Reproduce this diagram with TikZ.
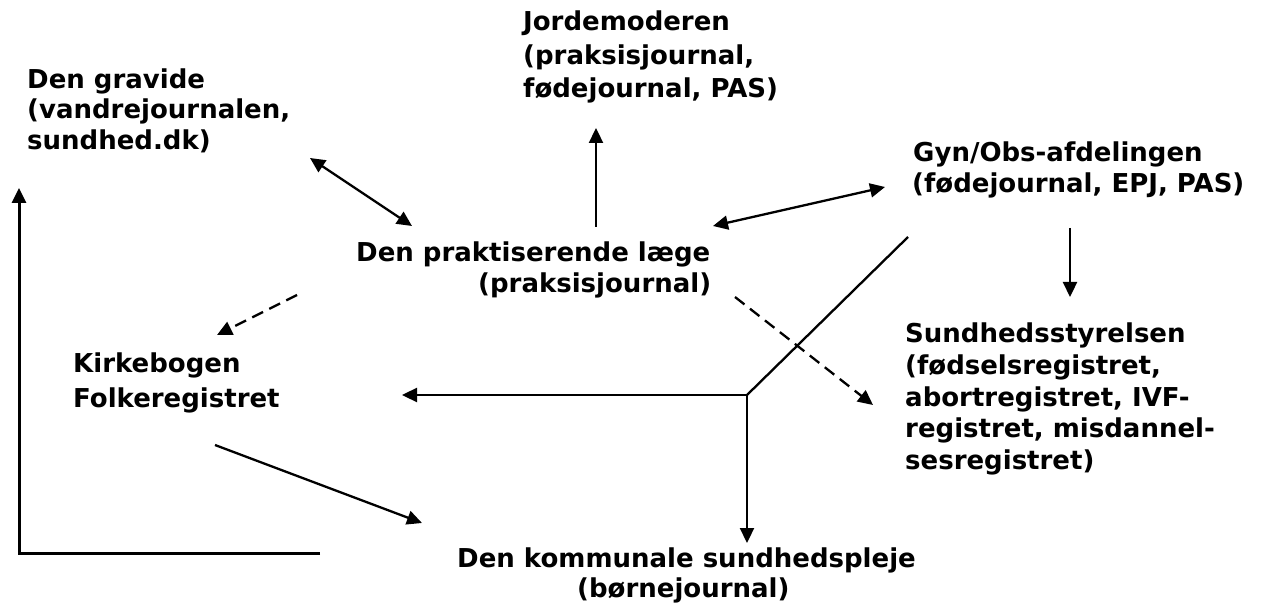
\documentclass[tikz,border=0pt]{standalone}
\usepackage{fontspec}
\setmainfont{DejaVu Sans}
\newfontfamily\lblfont{DejaVu Sans Bold}
\usetikzlibrary{arrows.meta}
\begin{document}
\begin{tikzpicture}[x=1pt,y=-1pt,
  lbl/.style={anchor=base west, inner sep=0pt, font=\lblfont\fontsize{26}{30}\selectfont},
  conn/.style={line width=2.3pt},
  arr/.style={conn,-{Triangle[length=15pt,width=14pt]}},
  darr/.style={conn,{Triangle[length=15pt,width=14pt]}-{Triangle[length=15pt,width=14pt]}},
  dasharr/.style={arr,dash pattern=on 12pt off 7pt},
]
\useasboundingbox (0,0) rectangle (1267,609);
% texts
\node[lbl] (g1) at (27,89) {Den gravide};
\node[lbl] (g2) at (27,119) {(vandrejournalen,};
\node[lbl] (g3) at (27,150) {sundhed.dk)};
\node[lbl] (j1) at (523,31) {Jordemoderen};
\node[lbl] (j2) at (523,65) {(praksisjournal,};
\node[lbl] (j3) at (523,98) {fødejournal, PAS)};
\node[lbl] (y1) at (913,162) {Gyn/Obs-afdelingen};
\node[lbl] (y2) at (912,193) {(fødejournal, EPJ, PAS)};
\node[lbl] (p1) at (356,262) {Den praktiserende læge};
\node[lbl] (p2) at (478,293) {(praksisjournal)};
\node[lbl] (s1) at (905,343) {Sundhedsstyrelsen};
\node[lbl] (s2) at (905,375) {(fødselsregistret,};
\node[lbl] (s3) at (905,407) {abortregistret, IVF-};
\node[lbl] (s4) at (905,438) {registret, misdannel-};
\node[lbl] (s5) at (905,470) {sesregistret)};
\node[lbl] (k1) at (73,373) {Kirkebogen};
\node[lbl] (k2) at (73,408) {Folkeregistret};
\node[lbl] (m1) at (457,567) {Den kommunale sundhedspleje};
\node[lbl] (m2) at (577,597) {(børnejournal)};
% connector end points
\coordinate (gA) at (310,158);
\coordinate (pA) at (412,226);
\coordinate (jA1) at (596,227);
\coordinate (jA2) at (596,128);
\coordinate (pB) at (713,226);
\coordinate (yA) at (885,187);
\coordinate (yB) at (1070,228);
\coordinate (sA) at (1070,297);
\coordinate (pC) at (297,295);
\coordinate (kA) at (217,335);
\coordinate (pD) at (735,297);
\coordinate (sB) at (873,405);
\coordinate (yC) at (908,237);
\coordinate (jn) at (747,395);
\coordinate (kB) at (402,395);
\coordinate (mA) at (747,543);
\coordinate (kC) at (215,445);
\coordinate (mB) at (422,523);
\coordinate (mC) at (320,553);
\coordinate (cor) at (19,553);
\coordinate (gB) at (19,188);
% connectors
\draw[darr] (gA) -- (pA);
\draw[arr] (jA1) -- (jA2);
\draw[darr] (pB) -- (yA);
\draw[arr] (yB) -- (sA);
\draw[dasharr] (pC) -- (kA);
\draw[dasharr] (pD) -- (sB);
\draw[conn] (yC) -- (jn);
\draw[arr] (jn) -- (kB);
\draw[arr] (jn) -- (mA);
\draw[arr] (kC) -- (mB);
\draw[arr,line width=3pt] (mC) -- (cor) -- (gB);
\end{tikzpicture}
\end{document}
